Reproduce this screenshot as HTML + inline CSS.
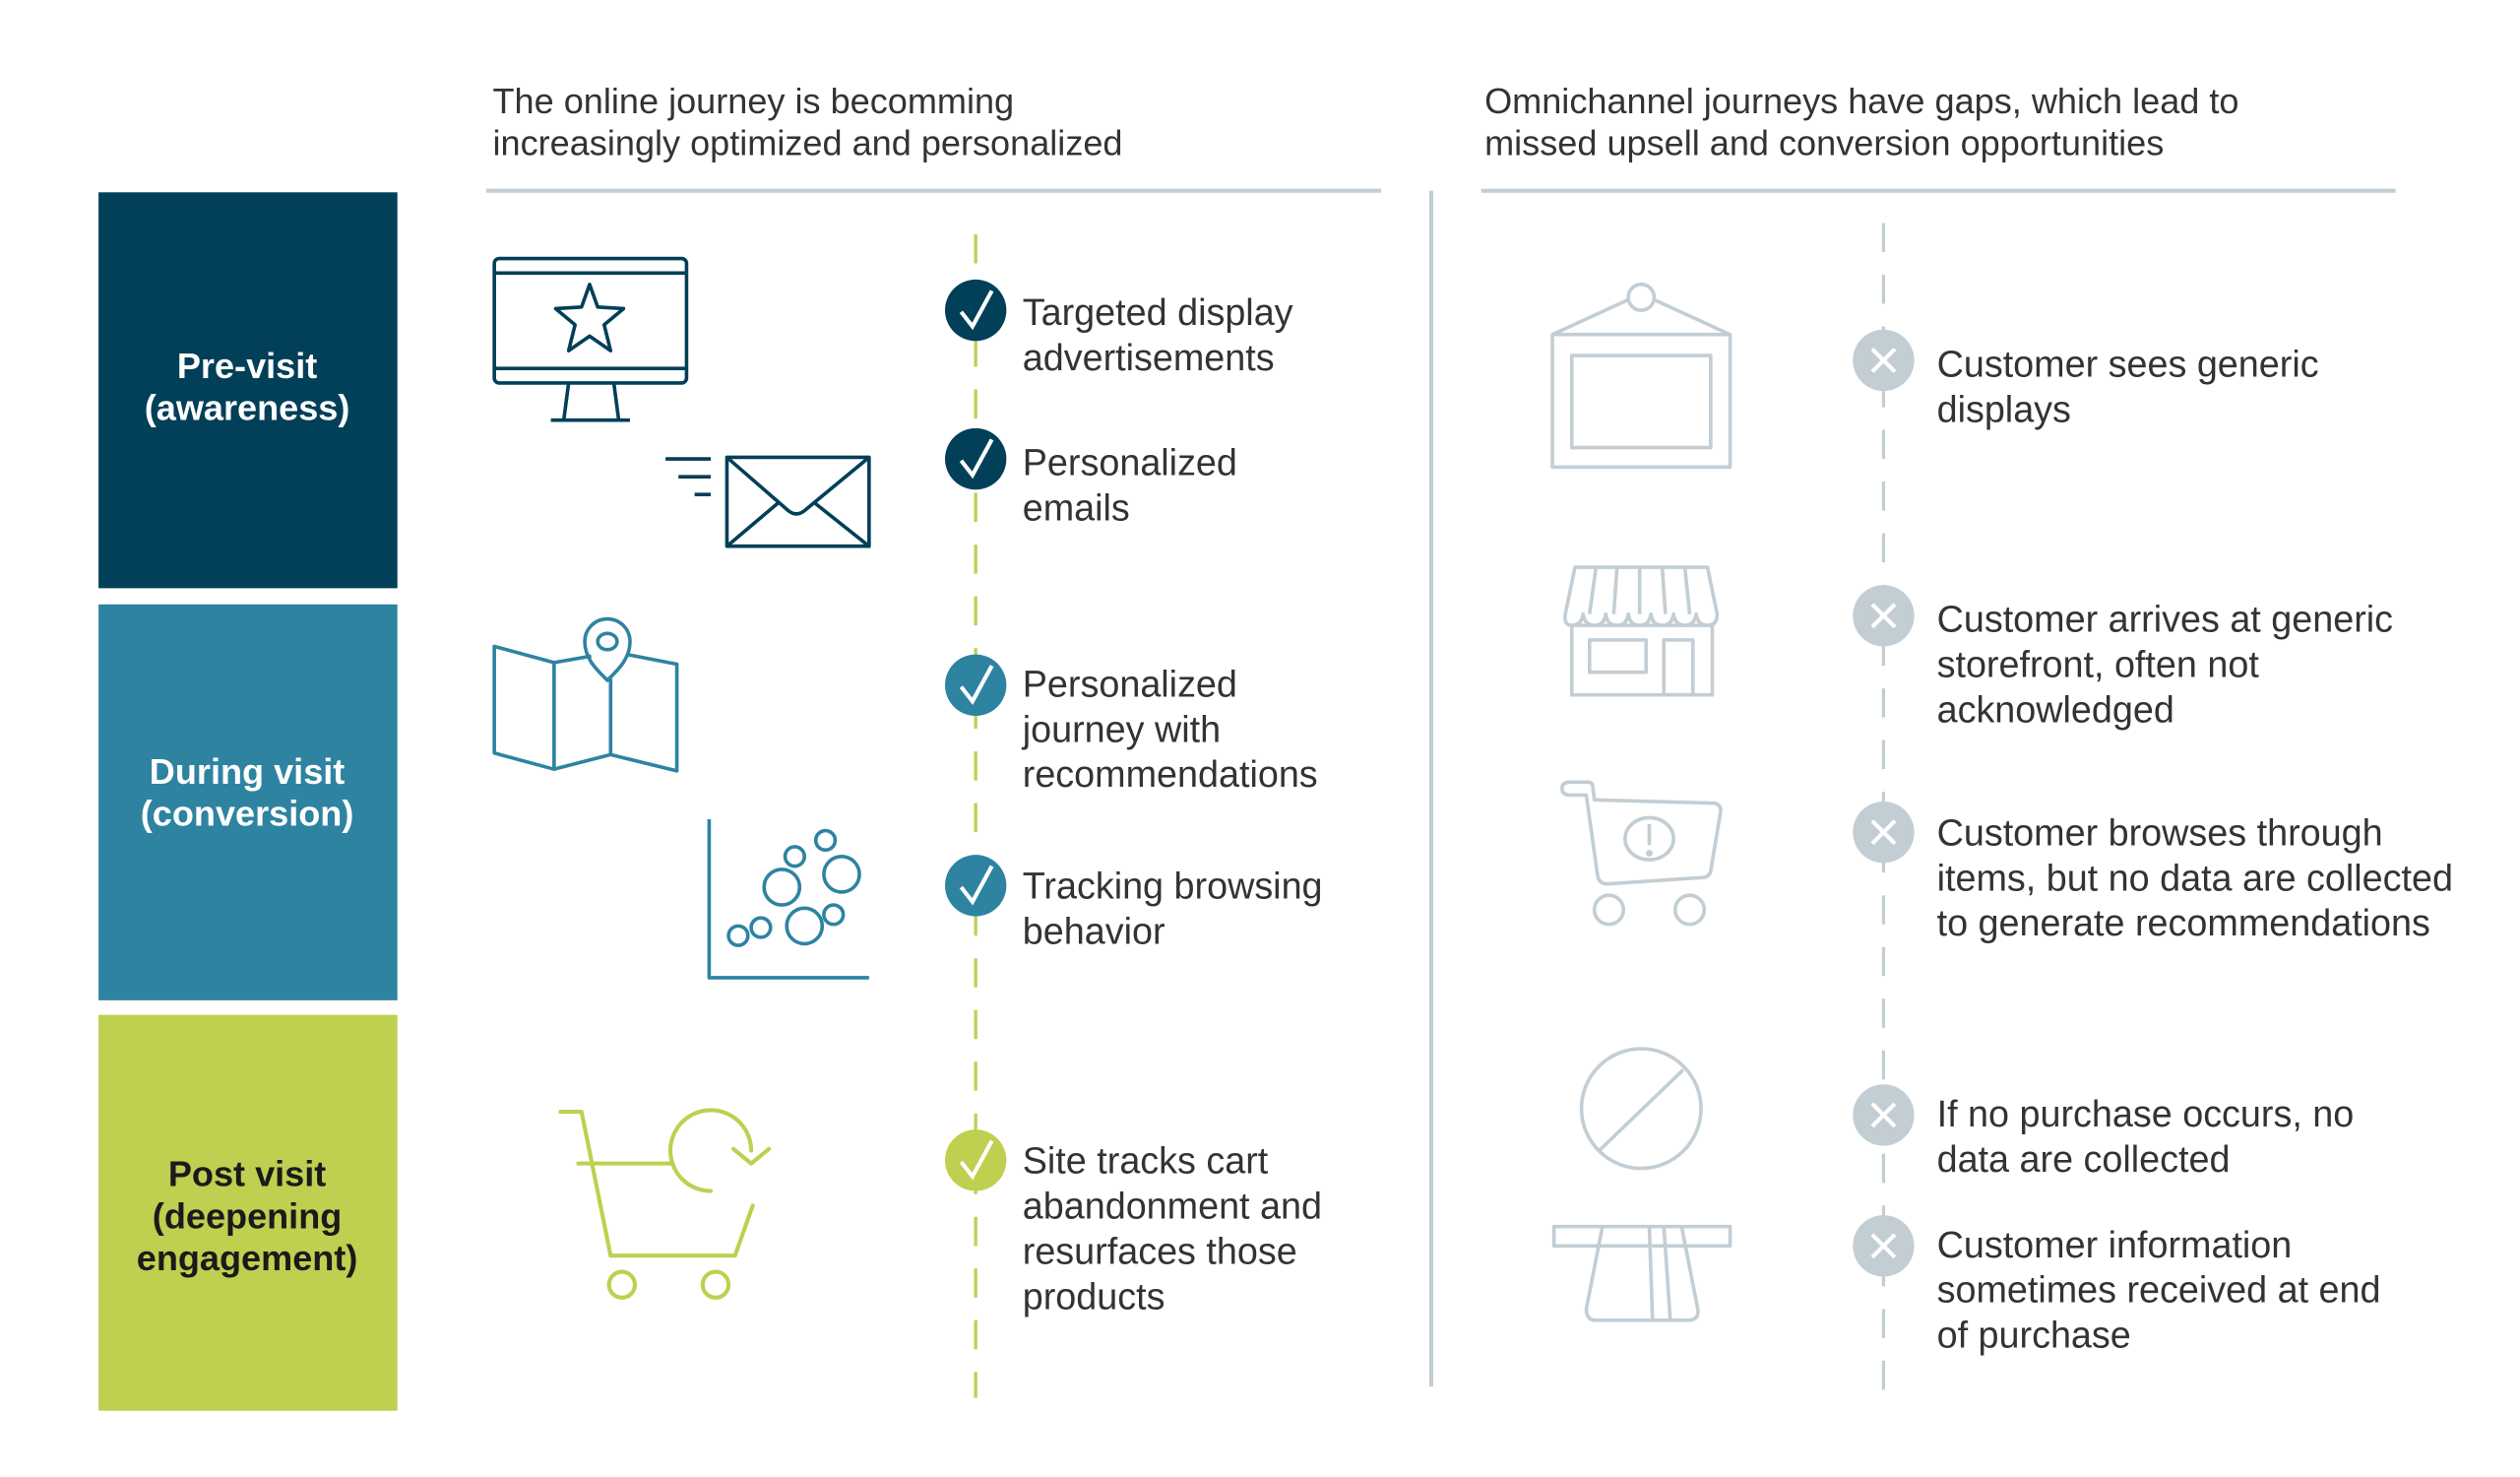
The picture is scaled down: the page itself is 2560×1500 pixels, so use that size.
<!DOCTYPE html>
<html><head><meta charset="utf-8"><style>
html,body{margin:0;padding:0;background:#fff;width:2560px;height:1500px;overflow:hidden}
svg{display:block}
text{font-family:"Liberation Sans",sans-serif;fill:#333}
.h{font-size:22px}
.t{font-size:23px}
.b{font-size:22px;font-weight:bold;fill:#fff}
</style></head><body>
<svg width="2560" height="1500" viewBox="0 0 1560 914" preserveAspectRatio="none" xmlns="http://www.w3.org/2000/svg">
<rect width="1560" height="914" fill="#fff"/>
<text class="h" x="305" y="70">The online journey is becomming</text>
<text class="h" x="305" y="96">increasingly optimized and personalized</text>
<text class="h" x="919" y="70">Omnichannel journeys have gaps, which lead to</text>
<text class="h" x="919" y="96">missed upsell and conversion opportunities</text>
<line x1="301" y1="118" x2="855" y2="118" stroke="#c3cdd4" stroke-width="2.5"/>
<line x1="917" y1="118" x2="1483" y2="118" stroke="#c3cdd4" stroke-width="2.5"/>
<line x1="886" y1="118" x2="886" y2="858" stroke="#c3cdd4" stroke-width="2.5"/>
<rect x="61" y="119" width="185" height="245" fill="#023f58"/>
<rect x="61" y="374" width="185" height="245" fill="#2e83a1"/>
<rect x="61" y="628" width="185" height="245" fill="#bfcf4f"/>
<text class="b" x="153" y="234" text-anchor="middle">Pre-visit</text>
<text class="b" x="153" y="260" text-anchor="middle">(awareness)</text>
<text class="b" x="153" y="485" text-anchor="middle">During visit</text>
<text class="b" x="153" y="511" text-anchor="middle">(conversion)</text>
<text class="b" x="153" y="734" text-anchor="middle" style="fill:#1a1a1a">Post visit</text>
<text class="b" x="153" y="760" text-anchor="middle" style="fill:#1a1a1a">(deepening</text>
<text class="b" x="153" y="786" text-anchor="middle" style="fill:#1a1a1a">engagement)</text>
<line x1="604" y1="145" x2="604" y2="865" stroke="#bfcf4f" stroke-width="2" stroke-dasharray="18,14"/>
<line x1="1166" y1="138" x2="1166" y2="860" stroke="#c3cdd4" stroke-width="2" stroke-dasharray="18,14"/>
<g stroke="#fff" stroke-width="2.5" fill="none">
<circle cx="604" cy="192" r="19" fill="#023f58" stroke="none"/><path d="M595 193 L602 202 L614 180"/>
<circle cx="604" cy="284" r="19" fill="#023f58" stroke="none"/><path d="M595 285 L602 294 L614 272"/>
<circle cx="604" cy="424" r="19" fill="#2e83a1" stroke="none"/><path d="M595 425 L602 434 L614 412"/>
<circle cx="604" cy="548" r="19" fill="#2e83a1" stroke="none"/><path d="M595 549 L602 558 L614 536"/>
<circle cx="604" cy="718" r="19" fill="#bfcf4f" stroke="none"/><path d="M595 719 L602 728 L614 706"/>
</g>
<g stroke="#fff" stroke-width="2.5">
<circle cx="1166" cy="223" r="19" fill="#c3cdd4" stroke="none"/><path d="M1159 216 L1173 230 M1173 216 L1159 230"/>
<circle cx="1166" cy="381" r="19" fill="#c3cdd4" stroke="none"/><path d="M1159 374 L1173 388 M1173 374 L1159 388"/>
<circle cx="1166" cy="515" r="19" fill="#c3cdd4" stroke="none"/><path d="M1159 508 L1173 522 M1173 508 L1159 522"/>
<circle cx="1166" cy="690" r="19" fill="#c3cdd4" stroke="none"/><path d="M1159 683 L1173 697 M1173 683 L1159 697"/>
<circle cx="1166" cy="771" r="19" fill="#c3cdd4" stroke="none"/><path d="M1159 764 L1173 778 M1173 764 L1159 778"/>
</g>
<text class="t" x="633" y="201">Targeted display</text>
<text class="t" x="633" y="229">advertisements</text>
<text class="t" x="633" y="294">Personalized</text>
<text class="t" x="633" y="322">emails</text>
<text class="t" x="633" y="431">Personalized</text>
<text class="t" x="633" y="459">journey with</text>
<text class="t" x="633" y="487">recommendations</text>
<text class="t" x="633" y="556">Tracking browsing</text>
<text class="t" x="633" y="584">behavior</text>
<text class="t" x="633" y="726">Site tracks cart</text>
<text class="t" x="633" y="754">abandonment and</text>
<text class="t" x="633" y="782">resurfaces those</text>
<text class="t" x="633" y="810">products</text>
<text class="t" x="1199" y="233">Customer sees generic</text>
<text class="t" x="1199" y="261">displays</text>
<text class="t" x="1199" y="391">Customer arrives at generic</text>
<text class="t" x="1199" y="419">storefront, often not</text>
<text class="t" x="1199" y="447">acknowledged</text>
<text class="t" x="1199" y="523">Customer browses through</text>
<text class="t" x="1199" y="551">items, but no data are collected</text>
<text class="t" x="1199" y="579">to generate recommendations</text>
<text class="t" x="1199" y="697">If no purchase occurs, no</text>
<text class="t" x="1199" y="725">data are collected</text>
<text class="t" x="1199" y="778">Customer information</text>
<text class="t" x="1199" y="806">sometimes received at end</text>
<text class="t" x="1199" y="834">of purchase</text>
<g fill="none" stroke="#023f58" stroke-width="2.2" stroke-linejoin="round">
<rect x="306" y="160" width="119" height="77" rx="3"/>
<line x1="306" y1="169" x2="425" y2="169"/><line x1="306" y1="228" x2="425" y2="228"/>
<path d="M352 237 L349 260 M380 237 L383 260 M341 260 L390 260"/>
<polygon points="365,176 370,190 386,191 374,201 378,217 365,208 352,217 356,201 344,191 360,190"/>
<rect x="450" y="283" width="88" height="55"/>
<path d="M450 283 L488 316 Q493 320 498 316 L538 283 M450 338 L482 311 M538 338 L504 311"/>
<path d="M412 284 L440 284 M420 295 L440 295 M430 306 L440 306"/>
</g>
<g fill="none" stroke="#2e83a1" stroke-width="2.2" stroke-linejoin="round">
<path d="M306 400 L343 410 L343 476 L306 466 Z"/>
<path d="M343 410 L366 406 M388 405 L419 411 L419 477 L378 467 L343 476"/>
<line x1="378" y1="420" x2="378" y2="467"/>
<path d="M376 421 C370 415 362 408 362 397 A14 14 0 0 1 390 397 C390 408 382 415 376 421 Z"/>
<ellipse cx="376" cy="397" rx="6" ry="5"/>
<path d="M439 507 L439 605 L538 605"/>
<circle cx="457" cy="579" r="6"/><circle cx="471" cy="574" r="6"/><circle cx="484" cy="549" r="11"/>
<circle cx="498" cy="573" r="11"/><circle cx="492" cy="530" r="6"/><circle cx="511" cy="520" r="6"/>
<circle cx="521" cy="541" r="11"/><circle cx="516" cy="566" r="6"/>
</g>
<g fill="none" stroke="#bfcf4f" stroke-width="2.5" stroke-linecap="round" stroke-linejoin="round">
<path d="M347 688 L360 688 L378 777 L455 777 L466 746"/>
<path d="M358 720 L415 720"/>
<path d="M440 737 A25 25 0 1 1 465 712"/>
<path d="M454 711 L465 720 L476 711"/>
<circle cx="385" cy="795" r="8"/><circle cx="443" cy="795" r="8"/>
</g>
<g fill="none" stroke="#c3cdd4" stroke-width="2.2" stroke-linejoin="round">
<rect x="961" y="207" width="110" height="82"/>
<rect x="973" y="220" width="86" height="57"/>
<path d="M961 207 L1009 185 M1023 185 L1071 207"/>
<circle cx="1016" cy="184" r="8"/>
<path d="M975 351 L1057 351 L1063 380 Q1063 387 1057 387 Q1051 387 1050 380 Q1049 387 1043 387 Q1037 387 1036 380 Q1035 387 1029 387 Q1023 387 1022 380 Q1021 387 1015 387 Q1009 387 1008 380 Q1007 387 1001 387 Q995 387 994 380 Q993 387 987 387 Q981 387 980 380 Q979 387 973 387 Q968 387 969 380 Z"/>
<path d="M988 351 L984 380 M1001 351 L999 380 M1015 351 L1015 380 M1029 351 L1031 380 M1043 351 L1046 380"/>
<rect x="973" y="387" width="87" height="43"/>
<rect x="984" y="396" width="35" height="20"/>
<rect x="1030" y="396" width="18" height="34"/>
<path d="M970 484 L983 484 Q986 484 986 487 L987 495 L1061 497 Q1066 498 1065 503 L1059 539 Q1058 543 1054 543 L995 547 Q990 547 989 542 L982 492 L972 492 Q967 492 967 488 Q967 484 972 484"/>
<ellipse cx="1021" cy="519" rx="15" ry="13"/>
<path d="M1021 510 L1021 523"/><circle cx="1021" cy="528" r="1" fill="#c3cdd4"/>
<ellipse cx="996" cy="563" rx="9" ry="9"/><ellipse cx="1046" cy="563" rx="9" ry="9"/>
<circle cx="1016" cy="686" r="37"/>
<path d="M990 712 L1042 662"/>
<rect x="962" y="759" width="109" height="12"/>
<path d="M992 759 L982 810 Q982 817 988 817 L1045 817 Q1052 817 1051 810 L1041 759"/>
<path d="M1021 759 L1023 817 M1030 759 L1034 817"/>
</g>
</svg>
</body></html>
